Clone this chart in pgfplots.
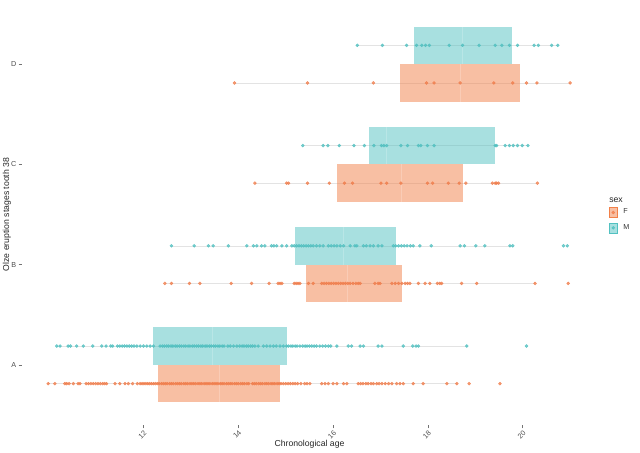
\documentclass[border=0pt]{standalone}
\usepackage{fontspec}
\setmainfont{Liberation Sans}
\usepackage{pgfplots}
\pgfplotsset{compat=1.18}
\definecolor{Fpt}{RGB}{240,124,74}
\definecolor{Mpt}{RGB}{78,191,191}
\definecolor{Fbox}{RGB}{242,128,72}
\definecolor{Mbox}{RGB}{82,193,193}
\begin{document}
\begin{tikzpicture}
\useasboundingbox (0,0) rectangle (480pt,339.75pt);
\begin{axis}[
  at={(16.5pt,21pt)}, anchor=south west,
  scale only axis, width=431.25pt, height=315.75pt,
  xmin=9.437, xmax=21.567, ymin=0.4, ymax=4.6,
  axis lines*=left, axis line style={draw=none},
  tick align=outside, major tick length=2.6pt,
  tick style={black!55, line width=0.4pt},
  xtick={12,14,16,18,20}, ytick={1,2,3,4},
  yticklabels={A,B,C,D},
  /pgf/number format/assume math mode=true,
  tick label style={font=\fontsize{5.4}{6}\selectfont, text=black!70},
  xticklabel style={rotate=45, anchor=north east, inner sep=0.5pt},
  yticklabel style={inner sep=1.5pt},
  label style={font=\fontsize{6.5}{7.5}\selectfont, text=black!85},
  xlabel={Chronological age},
  xlabel style={at={(axis description cs:0.5,-0.046)}, anchor=center},
  ylabel={Olze eruption stages tooth 38},
  ylabel style={at={(axis description cs:-0.0261,0.5)}, anchor=center},
  clip=false,
  legend style={at={(axis description cs:1.021,0.518)}, anchor=north west, draw=none, fill=none,
    inner sep=0pt, row sep=3.5pt, column sep=4pt, font=\fontsize{5.4}{6}\selectfont, text=black!80,
    nodes={inner sep=0.6pt}},
  legend cell align=left,
]
% whiskers
\addplot[black!11, line width=0.35pt, forget plot] coordinates {(10.17,1.1875) (18.82,1.1875)};
\addplot[black!11, line width=0.35pt, forget plot] coordinates {(9.99,0.8125) (18.61,0.8125)};
\addplot[black!11, line width=0.35pt, forget plot] coordinates {(12.59,2.1875) (19.79,2.1875)};
\addplot[black!11, line width=0.35pt, forget plot] coordinates {(12.45,1.8125) (20.26,1.8125)};
\addplot[black!11, line width=0.35pt, forget plot] coordinates {(15.36,3.1875) (20.11,3.1875)};
\addplot[black!11, line width=0.35pt, forget plot] coordinates {(14.35,2.8125) (20.31,2.8125)};
\addplot[black!11, line width=0.35pt, forget plot] coordinates {(16.51,4.1875) (20.74,4.1875)};
\addplot[black!11, line width=0.35pt, forget plot] coordinates {(13.92,3.8125) (21.00,3.8125)};
% points M
\addplot[only marks, mark=*, mark size=1.1pt, color=Mpt, opacity=0.75, forget plot] coordinates {
(10.17,1.1875) (10.24,1.1875) (10.41,1.1875) (10.46,1.1875) (10.59,1.1875) (10.73,1.1875) (10.93,1.1875) (11.12,1.1875) (11.21,1.1875) (11.31,1.1875) (11.35,1.1875) (11.45,1.1875) (11.50,1.1875) (11.55,1.1875) (11.60,1.1875) (11.65,1.1875) (11.70,1.1875) (11.75,1.1875) (11.80,1.1875) (11.86,1.1875) (11.93,1.1875) (12.00,1.1875) (12.07,1.1875) (12.14,1.1875) (12.21,1.1875) (12.35,1.1875) (12.40,1.1875) (12.44,1.1875) (12.49,1.1875) (12.53,1.1875) (12.58,1.1875) (12.62,1.1875) (12.67,1.1875) (12.71,1.1875) (12.76,1.1875) (12.80,1.1875) (12.85,1.1875) (12.89,1.1875) (12.94,1.1875) (12.98,1.1875) (13.03,1.1875) (13.07,1.1875) (13.12,1.1875) (13.16,1.1875) (13.21,1.1875) (13.25,1.1875) (13.30,1.1875) (13.34,1.1875) (13.39,1.1875) (13.43,1.1875) (13.48,1.1875) (13.52,1.1875) (13.57,1.1875) (13.61,1.1875) (13.66,1.1875) (13.70,1.1875) (13.78,1.1875) (13.83,1.1875) (13.90,1.1875) (13.97,1.1875) (14.03,1.1875) (14.08,1.1875) (14.12,1.1875) (14.17,1.1875) (14.21,1.1875) (14.26,1.1875) (14.30,1.1875) (14.35,1.1875) (14.42,1.1875) (14.53,1.1875) (14.60,1.1875) (14.67,1.1875) (14.74,1.1875) (14.80,1.1875) (14.88,1.1875) (14.95,1.1875) (15.02,1.1875) (15.06,1.1875) (15.11,1.1875) (15.15,1.1875) (15.20,1.1875) (15.24,1.1875) (15.30,1.1875) (15.36,1.1875) (15.41,1.1875) (15.45,1.1875) (15.50,1.1875) (15.55,1.1875) (15.60,1.1875) (15.65,1.1875) (15.72,1.1875) (15.78,1.1875) (15.84,1.1875) (15.90,1.1875) (15.95,1.1875) (16.08,1.1875) (16.32,1.1875) (16.39,1.1875) (16.57,1.1875) (16.64,1.1875) (16.95,1.1875) (17.03,1.1875) (17.48,1.1875) (17.68,1.1875) (17.75,1.1875) (17.80,1.1875) (18.82,1.1875) (20.08,1.1875)
(12.59,2.1875) (13.07,2.1875) (13.37,2.1875) (13.47,2.1875) (13.79,2.1875) (14.18,2.1875) (14.32,2.1875) (14.39,2.1875) (14.49,2.1875) (14.56,2.1875) (14.70,2.1875) (14.75,2.1875) (14.81,2.1875) (14.92,2.1875) (15.02,2.1875) (15.13,2.1875) (15.18,2.1875) (15.23,2.1875) (15.28,2.1875) (15.33,2.1875) (15.38,2.1875) (15.43,2.1875) (15.48,2.1875) (15.53,2.1875) (15.58,2.1875) (15.65,2.1875) (15.72,2.1875) (15.79,2.1875) (15.90,2.1875) (15.96,2.1875) (16.02,2.1875) (16.08,2.1875) (16.15,2.1875) (16.22,2.1875) (16.36,2.1875) (16.46,2.1875) (16.50,2.1875) (16.64,2.1875) (16.70,2.1875) (16.78,2.1875) (16.85,2.1875) (16.95,2.1875) (17.03,2.1875) (17.27,2.1875) (17.32,2.1875) (17.38,2.1875) (17.44,2.1875) (17.50,2.1875) (17.56,2.1875) (17.63,2.1875) (17.69,2.1875) (17.83,2.1875) (18.07,2.1875) (18.68,2.1875) (18.77,2.1875) (19.01,2.1875) (19.20,2.1875) (19.73,2.1875) (19.79,2.1875) (20.86,2.1875) (20.94,2.1875)
(15.36,3.1875) (15.79,3.1875) (15.89,3.1875) (16.13,3.1875) (16.44,3.1875) (16.66,3.1875) (16.86,3.1875) (17.02,3.1875) (17.07,3.1875) (17.13,3.1875) (17.43,3.1875) (17.57,3.1875) (17.80,3.1875) (17.85,3.1875) (17.99,3.1875) (18.13,3.1875) (19.42,3.1875) (19.45,3.1875) (19.63,3.1875) (19.72,3.1875) (19.80,3.1875) (19.89,3.1875) (19.99,3.1875) (20.11,3.1875)
(16.51,4.1875) (17.04,4.1875) (17.55,4.1875) (17.76,4.1875) (17.87,4.1875) (17.95,4.1875) (18.03,4.1875) (18.45,4.1875) (18.73,4.1875) (19.08,4.1875) (19.42,4.1875) (19.56,4.1875) (19.72,4.1875) (19.89,4.1875) (20.24,4.1875) (20.33,4.1875) (20.61,4.1875) (20.74,4.1875)
};
% points F
\addplot[only marks, mark=*, mark size=1.1pt, color=Fpt, opacity=0.75, forget plot] coordinates {
(9.99,0.8125) (10.13,0.8125) (10.34,0.8125) (10.38,0.8125) (10.43,0.8125) (10.52,0.8125) (10.62,0.8125) (10.66,0.8125) (10.79,0.8125) (10.84,0.8125) (10.89,0.8125) (10.94,0.8125) (10.99,0.8125) (11.04,0.8125) (11.09,0.8125) (11.14,0.8125) (11.18,0.8125) (11.22,0.8125) (11.40,0.8125) (11.50,0.8125) (11.61,0.8125) (11.68,0.8125) (11.77,0.8125) (11.87,0.8125) (11.93,0.8125) (11.97,0.8125) (12.01,0.8125) (12.05,0.8125) (12.09,0.8125) (12.13,0.8125) (12.17,0.8125) (12.21,0.8125) (12.25,0.8125) (12.29,0.8125) (12.33,0.8125) (12.38,0.8125) (12.42,0.8125) (12.46,0.8125) (12.50,0.8125) (12.55,0.8125) (12.59,0.8125) (12.63,0.8125) (12.68,0.8125) (12.72,0.8125) (12.76,0.8125) (12.80,0.8125) (12.85,0.8125) (12.89,0.8125) (12.93,0.8125) (12.98,0.8125) (13.02,0.8125) (13.06,0.8125) (13.10,0.8125) (13.15,0.8125) (13.19,0.8125) (13.23,0.8125) (13.28,0.8125) (13.32,0.8125) (13.36,0.8125) (13.40,0.8125) (13.45,0.8125) (13.49,0.8125) (13.53,0.8125) (13.57,0.8125) (13.62,0.8125) (13.66,0.8125) (13.70,0.8125) (13.75,0.8125) (13.79,0.8125) (13.83,0.8125) (13.87,0.8125) (13.92,0.8125) (13.96,0.8125) (14.00,0.8125) (14.05,0.8125) (14.09,0.8125) (14.13,0.8125) (14.18,0.8125) (14.22,0.8125) (14.30,0.8125) (14.34,0.8125) (14.38,0.8125) (14.43,0.8125) (14.47,0.8125) (14.51,0.8125) (14.56,0.8125) (14.60,0.8125) (14.64,0.8125) (14.69,0.8125) (14.73,0.8125) (14.77,0.8125) (14.82,0.8125) (14.86,0.8125) (14.90,0.8125) (14.95,0.8125) (15.00,0.8125) (15.05,0.8125) (15.10,0.8125) (15.15,0.8125) (15.20,0.8125) (15.25,0.8125) (15.32,0.8125) (15.40,0.8125) (15.45,0.8125) (15.51,0.8125) (15.76,0.8125) (15.83,0.8125) (15.90,0.8125) (16.00,0.8125) (16.08,0.8125) (16.22,0.8125) (16.29,0.8125) (16.53,0.8125) (16.58,0.8125) (16.63,0.8125) (16.69,0.8125) (16.74,0.8125) (16.80,0.8125) (16.85,0.8125) (16.92,0.8125) (16.97,0.8125) (17.03,0.8125) (17.10,0.8125) (17.17,0.8125) (17.24,0.8125) (17.34,0.8125) (17.41,0.8125) (17.48,0.8125) (17.69,0.8125) (17.90,0.8125) (18.40,0.8125) (18.61,0.8125) (18.87,0.8125) (19.52,0.8125)
(12.45,1.8125) (12.59,1.8125) (12.97,1.8125) (13.19,1.8125) (13.85,1.8125) (14.28,1.8125) (14.65,1.8125) (14.84,1.8125) (14.88,1.8125) (14.92,1.8125) (15.18,1.8125) (15.22,1.8125) (15.26,1.8125) (15.30,1.8125) (15.48,1.8125) (15.58,1.8125) (15.76,1.8125) (15.81,1.8125) (15.86,1.8125) (15.91,1.8125) (15.96,1.8125) (16.01,1.8125) (16.06,1.8125) (16.11,1.8125) (16.16,1.8125) (16.21,1.8125) (16.26,1.8125) (16.31,1.8125) (16.36,1.8125) (16.42,1.8125) (16.48,1.8125) (16.53,1.8125) (16.57,1.8125) (16.88,1.8125) (16.95,1.8125) (16.99,1.8125) (17.24,1.8125) (17.31,1.8125) (17.38,1.8125) (17.45,1.8125) (17.52,1.8125) (17.57,1.8125) (17.62,1.8125) (17.80,1.8125) (17.94,1.8125) (18.04,1.8125) (18.20,1.8125) (18.25,1.8125) (18.29,1.8125) (18.71,1.8125) (19.03,1.8125) (20.26,1.8125) (20.96,1.8125)
(14.35,2.8125) (15.02,2.8125) (15.06,2.8125) (15.46,2.8125) (15.92,2.8125) (16.24,2.8125) (16.41,2.8125) (17.01,2.8125) (17.13,2.8125) (17.43,2.8125) (17.99,2.8125) (18.10,2.8125) (18.43,2.8125) (18.66,2.8125) (18.80,2.8125) (19.36,2.8125) (19.42,2.8125) (19.45,2.8125) (19.49,2.8125) (20.31,2.8125)
(13.92,3.8125) (15.46,3.8125) (16.85,3.8125) (17.97,3.8125) (18.13,3.8125) (18.68,3.8125) (19.39,3.8125) (19.79,3.8125) (20.08,3.8125) (20.30,3.8125) (21.00,3.8125)
};
% boxes M
\addplot[draw=none, fill=Mbox, fill opacity=0.5, forget plot] coordinates {(12.19,1.0) (15.02,1.0) (15.02,1.375) (12.19,1.375)} -- cycle;
\addplot[draw=none, fill=Mbox, fill opacity=0.5, forget plot] coordinates {(15.20,2.0) (17.33,2.0) (17.33,2.375) (15.20,2.375)} -- cycle;
\addplot[draw=none, fill=Mbox, fill opacity=0.5, forget plot] coordinates {(16.76,3.0) (19.42,3.0) (19.42,3.375) (16.76,3.375)} -- cycle;
\addplot[draw=none, fill=Mbox, fill opacity=0.5, forget plot] coordinates {(17.71,4.0) (19.77,4.0) (19.77,4.375) (17.71,4.375)} -- cycle;
% boxes F
\addplot[draw=none, fill=Fbox, fill opacity=0.5, forget plot] coordinates {(12.31,0.625) (14.88,0.625) (14.88,1.0) (12.31,1.0)} -- cycle;
\addplot[draw=none, fill=Fbox, fill opacity=0.5, forget plot] coordinates {(15.42,1.625) (17.45,1.625) (17.45,2.0) (15.42,2.0)} -- cycle;
\addplot[draw=none, fill=Fbox, fill opacity=0.5, forget plot] coordinates {(16.09,2.625) (18.75,2.625) (18.75,3.0) (16.09,3.0)} -- cycle;
\addplot[draw=none, fill=Fbox, fill opacity=0.5, forget plot] coordinates {(17.41,3.625) (19.94,3.625) (19.94,4.0) (17.41,4.0)} -- cycle;
% medians
\addplot[white, opacity=0.2, line width=0.5pt, forget plot] coordinates {(13.45,1.0) (13.45,1.375)};
\addplot[white, opacity=0.2, line width=0.5pt, forget plot] coordinates {(13.60,0.625) (13.60,1.0)};
\addplot[white, opacity=0.2, line width=0.5pt, forget plot] coordinates {(16.22,2.0) (16.22,2.375)};
\addplot[white, opacity=0.2, line width=0.5pt, forget plot] coordinates {(16.30,1.625) (16.30,2.0)};
\addplot[white, opacity=0.2, line width=0.5pt, forget plot] coordinates {(17.13,3.0) (17.13,3.375)};
\addplot[white, opacity=0.2, line width=0.5pt, forget plot] coordinates {(17.43,2.625) (17.43,3.0)};
\addplot[white, opacity=0.2, line width=0.5pt, forget plot] coordinates {(18.73,4.0) (18.73,4.375)};
\addplot[white, opacity=0.2, line width=0.5pt, forget plot] coordinates {(18.68,3.625) (18.68,4.0)};
% legend
\addlegendimage{legend image code/.code={
  \fill[Fbox, fill opacity=0.5] (0pt,-3.8pt) rectangle (5.5pt,3.8pt);
  \fill[Fpt, opacity=0.75] (2.75pt,0pt) circle (1.1pt);}}
\addlegendentry{F}
\addlegendimage{legend image code/.code={
  \fill[Mbox, fill opacity=0.5] (0pt,-3.8pt) rectangle (5.5pt,3.8pt);
  \fill[Mpt, opacity=0.75] (2.75pt,0pt) circle (1.1pt);}}
\addlegendentry{M}
\end{axis}
\node[anchor=west, inner sep=0pt, font=\fontsize{6.5}{7.5}\selectfont, text=black!85] at (456.75pt,189.75pt) {sex};
\end{tikzpicture}
\end{document}
